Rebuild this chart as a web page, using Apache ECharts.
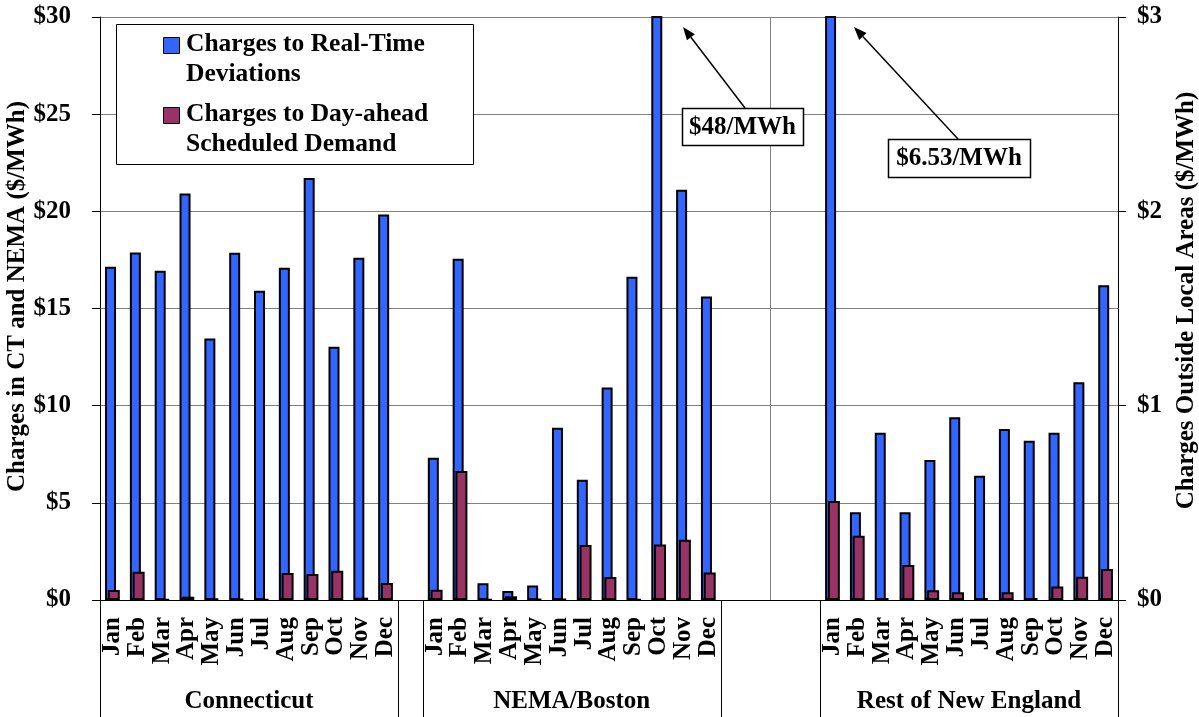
<!DOCTYPE html>
<html>
<head>
<meta charset="utf-8">
<script src="https://cdn.jsdelivr.net/npm/echarts@6/dist/echarts.min.js"></script>
<style>
  html, body { margin: 0; padding: 0; background: #fff; }
  #chart { width: 1199px; height: 717px; }
</style>
</head>
<body>
<div id="chart"></div>
<script>
// Monthly uplift charges by area ($/MWh)
const months = ['Jan','Feb','Mar','Apr','May','Jun','Jul','Aug','Sep','Oct','Nov','Dec'];
const groups = ['Connecticut', 'NEMA/Boston', 'Rest of New England'];
const seriesNames = ['Charges to Real-Time\nDeviations', 'Charges to Day-ahead\nScheduled Demand'];

// Left axis areas
const ctRealTime   = [17.15, 17.88, 16.94, 20.92, 13.46, 17.87, 15.91, 17.10, 21.71, 13.03, 17.61, 19.84];
const ctDayAhead   = [0.51, 1.46, 0.02, 0.17, 0.08, 0.05, 0.02, 1.39, 1.34, 1.51, 0.12, 0.87];
const nemaRealTime = [7.32, 17.56, 0.86, 0.46, 0.74, 8.87, 6.19, 10.94, 16.63, 48, 21.11, 15.62];
const nemaDayAhead = [0.53, 6.64, 0.02, 0.19, 0.05, 0.05, 2.83, 1.18, 0.02, 2.86, 3.10, 1.42];
// Right axis area
const restRealTime = [6.53, 0.451, 0.86, 0.451, 0.72, 0.94, 0.64, 0.88, 0.82, 0.86, 1.12, 1.62];
const restDayAhead = [0.51, 0.33, 0.01, 0.18, 0.05, 0.04, 0.01, 0.04, 0.01, 0.07, 0.12, 0.16];

const leftTicks = [0, 5, 10, 15, 20, 25, 30];
const rightTicks = [0, 1, 2, 3];
const callouts = ['$48/MWh', '$6.53/MWh'];

// Category slots: 12 CT months, 1 spacer, 12 NEMA months, 4 spacers, 12 Rest months
const GAP1 = 1, GAP2 = 4;
const categories = [];
months.forEach(m => categories.push('CT|' + m));
for (let i = 0; i < GAP1; i++) categories.push('g1_' + i + '|');
months.forEach(m => categories.push('NEMA|' + m));
for (let i = 0; i < GAP2; i++) categories.push('g2_' + i + '|');
months.forEach(m => categories.push('REST|' + m));

const nulls = n => new Array(n).fill(null);
const leftRT  = [...ctRealTime, ...nulls(GAP1), ...nemaRealTime, ...nulls(GAP2 + 12)];
const leftDA  = [...ctDayAhead, ...nulls(GAP1), ...nemaDayAhead, ...nulls(GAP2 + 12)];
const rightRT = [...nulls(24 + GAP1 + GAP2), ...restRealTime];
const rightDA = [...nulls(24 + GAP1 + GAP2), ...restDayAhead];

const BLUE = '#3366FF', MAROON = '#993366';
const FONT = '"Liberation Serif", "Times New Roman", serif';
const FS = 25;
const txt = { fontFamily: FONT, fontWeight: 'bold', fontSize: FS, color: '#000' };

const chart = echarts.init(document.getElementById('chart'), null, { renderer: 'canvas' });

const barBase = { type: 'bar', barGap: '-75%', clip: true,
  itemStyle: { borderColor: '#000', borderWidth: 2 } };

const option = {
  animation: false,
  backgroundColor: '#fff',
  grid: { left: 100, right: 81, top: 17, bottom: 117, containLabel: false, outerBoundsMode: 'none' },
  xAxis: [
    { type: 'category', data: categories, boundaryGap: true,
      axisLine: { lineStyle: { color: '#000', width: 1 } },
      axisTick: { show: false },
      axisLabel: { ...txt, rotate: 90, margin: 17, interval: 0,
        formatter: v => v.split('|')[1] } },
    { type: 'category', data: categories, boundaryGap: true, show: false }
  ],
  yAxis: [
    { type: 'value', min: leftTicks[0], max: leftTicks[leftTicks.length - 1], interval: 5,
      name: 'Charges in CT and NEMA ($/MWh)', nameLocation: 'middle', nameRotate: 90, nameGap: 70,
      nameMoveOverlap: false,
      nameTextStyle: { ...txt, padding: [0, 0, 0, 24] },
      axisLine: { show: true, lineStyle: { color: '#000' } },
      axisTick: { show: true, length: 8, lineStyle: { color: '#000' } },
      axisLabel: { ...txt, margin: 29, formatter: v => '$' + v },
      splitLine: { show: true, lineStyle: { color: '#808080', width: 1 } } },
    { type: 'value', min: rightTicks[0], max: rightTicks[rightTicks.length - 1], interval: 1,
      position: 'right',
      name: 'Charges Outside Local Areas ($/MWh)', nameLocation: 'middle', nameRotate: 90, nameGap: 56,
      nameMoveOverlap: false,
      nameTextStyle: { ...txt, padding: [0, 0, 0, 16] },
      axisLine: { show: true, lineStyle: { color: '#000' } },
      axisTick: { show: true, length: 8, lineStyle: { color: '#000' } },
      axisLabel: { ...txt, margin: 19, formatter: v => '$' + v },
      splitLine: { show: false } }
  ],
  series: [
    { ...barBase, name: seriesNames[0], xAxisIndex: 0, yAxisIndex: 0, barWidth: 11,
      itemStyle: { ...barBase.itemStyle, color: BLUE }, data: leftRT, z: 2 },
    { ...barBase, name: seriesNames[1], xAxisIndex: 0, yAxisIndex: 0, barWidth: 12,
      itemStyle: { ...barBase.itemStyle, color: MAROON }, data: leftDA, z: 3 },
    { ...barBase, name: seriesNames[0], xAxisIndex: 1, yAxisIndex: 1, barWidth: 11,
      itemStyle: { ...barBase.itemStyle, color: BLUE }, data: rightRT, z: 2 },
    { ...barBase, name: seriesNames[1], xAxisIndex: 1, yAxisIndex: 1, barWidth: 12,
      itemStyle: { ...barBase.itemStyle, color: MAROON }, data: rightDA, z: 3 }
  ]
};
chart.setOption(option);

// Positions derived from the axes for separators, group labels and the area divider
const xOf = i => chart.convertToPixel({ xAxisIndex: 0 }, categories[i]);
const band = xOf(1) - xOf(0);
const edge = i => xOf(0) - band / 2 + i * band;      // left boundary of slot i
const yTop = chart.convertToPixel({ yAxisIndex: 0 }, leftTicks[leftTicks.length - 1]);
const yBase = chart.convertToPixel({ yAxisIndex: 0 }, 0);
const H = 717;

const ctStart = 0, nemaStart = 12 + GAP1, restStart = 24 + GAP1 + GAP2;
const spans = [[ctStart, ctStart + 12], [nemaStart, nemaStart + 12], [restStart, restStart + 12]];

const graphics = [];
const vline = (x, y1, y2, color) => graphics.push({ type: 'line', silent: true, z: 1,
  shape: { x1: Math.round(x) + 0.5, y1, x2: Math.round(x) + 0.5, y2 },
  style: { stroke: color, lineWidth: 1 } });

spans.forEach(([a, b], gi) => {
  vline(edge(a), yBase, H, '#000');
  vline(edge(b), yBase, H, '#000');
  graphics.push({ type: 'text', silent: true, z: 10,
    style: { text: groups[gi], x: (edge(a) + edge(b)) / 2, y: 702,
      font: 'bold ' + FS + 'px ' + FONT, fill: '#000', align: 'center', verticalAlign: 'middle' } });
});
// Divider between the local areas and the rest of the region
vline(edge(nemaStart + 12 + GAP2 / 2), yTop, yBase, '#808080');

// Legend box
const lgX = 116, lgY = 24;
graphics.push({ type: 'rect', silent: true, z: 20,
  shape: { x: lgX + 0.5, y: lgY + 0.5, width: 357, height: 140 },
  style: { fill: '#fff', stroke: '#000', lineWidth: 1 } });
[[BLUE, 13], [MAROON, 83]].forEach(([c, dy], i) => {
  graphics.push({ type: 'rect', silent: true, z: 21,
    shape: { x: lgX + 47.5, y: lgY + dy + 0.5, width: 16, height: 16 },
    style: { fill: c, stroke: '#000', lineWidth: 1 } });
  graphics.push({ type: 'text', silent: true, z: 21,
    style: { text: seriesNames[i], x: lgX + 70, y: lgY + dy - 8, lineHeight: 30,
      font: 'bold 25.5px ' + FONT, fill: '#000', align: 'left', verticalAlign: 'top' } });
});

// Callouts for the off-scale bars
function arrow(x1, y1, x2, y2) {
  const dx = x2 - x1, dy = y2 - y1, L = Math.hypot(dx, dy);
  const ux = dx / L, uy = dy / L, hl = 13, hw = 5;
  const bx = x2 - ux * hl, by = y2 - uy * hl;
  graphics.push({ type: 'line', silent: true, z: 22,
    shape: { x1, y1, x2: bx, y2: by }, style: { stroke: '#000', lineWidth: 1.5 } });
  graphics.push({ type: 'polygon', silent: true, z: 22,
    shape: { points: [[x2, y2], [bx - uy * hw, by + ux * hw], [bx + uy * hw, by - ux * hw]] },
    style: { fill: '#000' } });
}
function callout(text, x, y, w, h) {
  graphics.push({ type: 'rect', silent: true, z: 23,
    shape: { x: x + 0.5, y: y + 0.5, width: w, height: h },
    style: { fill: '#fff', stroke: '#000', lineWidth: 1.5 } });
  graphics.push({ type: 'text', silent: true, z: 24,
    style: { text, x: x + w / 2, y: y + h / 2 + 1, font: 'bold ' + FS + 'px ' + FONT, fill: '#000',
      align: 'center', verticalAlign: 'middle' } });
}
arrow(745, 108, 683, 27);
callout(callouts[0], 682, 108, 121, 37);
arrow(958, 139, 854, 27);
callout(callouts[1], 888, 139, 142, 38);

chart.setOption({ graphic: graphics });
</script>
</body>
</html>
